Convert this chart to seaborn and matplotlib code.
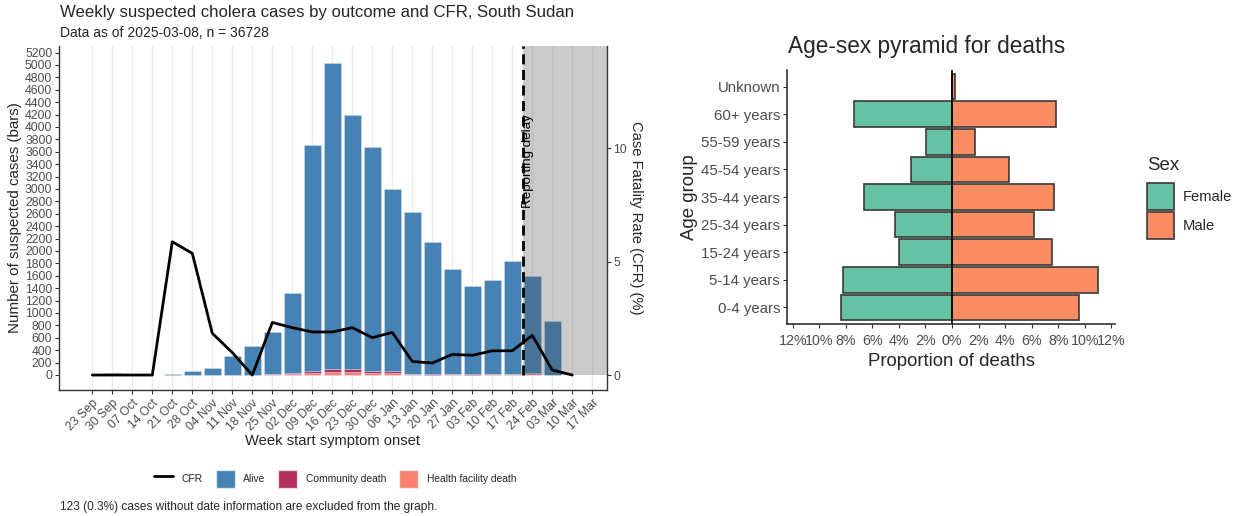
import numpy as np
import pandas as pd
import matplotlib.pyplot as plt
import seaborn as sns
from matplotlib.lines import Line2D
from matplotlib.patches import Patch, Rectangle

# Weekly data (left panel)
WEEKS = ["23 Sep", "30 Sep", "07 Oct", "14 Oct", "21 Oct", "28 Oct", "04 Nov", "11 Nov",
         "18 Nov", "25 Nov", "02 Dec", "09 Dec", "16 Dec", "23 Dec", "30 Dec", "06 Jan",
         "13 Jan", "20 Jan", "27 Jan", "03 Feb", "10 Feb", "17 Feb", "24 Feb", "03 Mar",
         "10 Mar", "17 Mar"]
ALIVE = [3, 27, 0, 0, 14, 62, 105, 303, 473, 672, 1300, 3635, 4941, 4108, 3621, 2943,
         2618, 2138, 1687, 1428, 1515, 1819, 1563, 864, 0, 0]
COMMUNITY_DEATH = [0, 0, 0, 0, 1, 2, 1, 2, 0, 8, 14, 35, 48, 42, 30, 28,
                   8, 6, 8, 6, 8, 10, 14, 1, 0, 0]
HF_DEATH = [0, 0, 0, 0, 0, 1, 1, 1, 0, 8, 14, 35, 48, 48, 31, 29,
            8, 6, 9, 7, 9, 10, 15, 1, 0, 0]
CFR_WEEKS = WEEKS[:25]
CFR = [0, 0, 0, 0, 5.88, 5.37, 1.84, 0.99, 0, 2.32, 2.09, 1.90, 1.90, 2.09, 1.65, 1.88,
       0.60, 0.53, 0.91, 0.87, 1.07, 1.07, 1.75, 0.22, 0]
DELAY_START = 21.55

# Age-sex pyramid (right panel), % of deaths
AGE_GROUPS = ["Unknown", "60+ years", "55-59 years", "45-54 years", "35-44 years",
              "25-34 years", "15-24 years", "5-14 years", "0-4 years"]
FEMALE_PCT = [0, 7.4, 1.95, 3.1, 6.6, 4.3, 4.0, 8.2, 8.33]
MALE_PCT = [0.2, 7.8, 1.7, 4.3, 7.7, 6.2, 7.5, 11.0, 9.6]

OUTCOME_COLORS = {"Alive": "#4682B4", "Community death": "#B03060",
                  "Health facility death": "#FA8072"}
SEX_COLORS = {"Female": "#66C2A5", "Male": "#FC8D62"}

sns.set_style("white")
plt.rcParams["font.family"] = ["Liberation Sans", "DejaVu Sans"]
TICK_COL = "#4D4D4D"

fig = plt.figure(figsize=(12.46, 5.16), dpi=100)

# ---------------- left panel ----------------
ax = fig.add_axes([0.0476, 0.2442, 0.4393, 0.6667])
idx = np.arange(len(WEEKS))
df = pd.DataFrame({
    "week": np.tile(idx, 3),
    "n": ALIVE + COMMUNITY_DEATH + HF_DEATH,
    "outcome": ["Alive"] * len(WEEKS) + ["Community death"] * len(WEEKS)
               + ["Health facility death"] * len(WEEKS),
})
sns.histplot(data=df, x="week", weights="n", hue="outcome",
             hue_order=["Alive", "Community death", "Health facility death"],
             palette=OUTCOME_COLORS, multiple="stack", discrete=True, shrink=0.87,
             alpha=1, edgecolor=(1, 1, 1, 0.35), linewidth=0.5, legend=False, ax=ax)

ymin, ymax = -242, 5306
ax.set_xlim(-1.65, 25.72)
ax.set_ylim(ymin, ymax)
ax.set_yticks(np.arange(0, 5201, 200))
ax.set_xticks(idx)
ax.set_xticklabels(WEEKS, rotation=45, ha="right", rotation_mode="anchor")
ax.tick_params(axis="both", labelsize=8.8, labelcolor=TICK_COL, length=3, width=0.8,
               color="#333333", direction="out", left=True, bottom=True, pad=2)
ax.grid(axis="x", color="#EBEBEB", lw=1)
ax.set_axisbelow(True)
for s in ["top", "right"]:
    ax.spines[s].set_visible(False)
for s in ["left", "bottom"]:
    ax.spines[s].set_color("#333333")
    ax.spines[s].set_linewidth(1)
ax.set_xlabel("Week start symptom onset", fontsize=10.6, labelpad=1)
ax.set_ylabel("Number of suspected cases (bars)", fontsize=10.9, labelpad=2)

# reporting delay shading + line
ax.add_patch(Rectangle((DELAY_START, 0), 25.72 - DELAY_START, ymax, facecolor="#555555",
                       alpha=0.3, edgecolor="none", zorder=5))
ax.vlines(DELAY_START, 0, ymax, colors="black", linestyles=(0, (3.6, 2.0)), lw=2, zorder=6)
ax.text(DELAY_START + 0.24, 3443, "Reporting delay", rotation=90, ha="center", va="center",
        fontsize=9.6, color="black", zorder=5)

ax2 = ax.twinx()
sns.lineplot(x=np.arange(len(CFR_WEEKS)), y=CFR, color="black", lw=2, ax=ax2)
ax2.set_ylim(-0.66, 14.52)
ax2.set_yticks([0, 5, 10])
ax2.tick_params(axis="y", labelsize=8.8, labelcolor=TICK_COL, length=3, width=0.8,
                color="#333333", right=True, pad=2)
for s in ["top", "left", "bottom"]:
    ax2.spines[s].set_visible(False)
ax2.spines["right"].set_color("#333333")
ax2.spines["right"].set_linewidth(1)
ax2.set_ylabel("Case Fatality Rate (CFR) (%)", fontsize=10.6, rotation=270, labelpad=11)

fig.text(60 / 1246, 1 - 12 / 516, "Weekly suspected cholera cases by outcome and CFR, South Sudan",
         fontsize=12.05, va="center", ha="left")
fig.text(60 / 1246, 1 - 33 / 516, "Data as of 2025-03-08, n = 36728",
         fontsize=10, va="center", ha="left")
fig.text(60 / 1246, 1 - 507 / 516,
         "123 (0.3%) cases without date information are excluded from the graph.",
         fontsize=8.6, va="center", ha="left")

handles = [Line2D([0], [0], color="black", lw=2)] + \
          [Patch(facecolor=c, edgecolor=(1, 1, 1, 0.6)) for c in OUTCOME_COLORS.values()]
labels = ["CFR"] + list(OUTCOME_COLORS.keys())
fig.legend(handles, labels, loc="center", bbox_to_anchor=(335 / 1246, 1 - 479 / 516),
           ncol=4, frameon=False, fontsize=7.4, handlelength=1.85, handleheight=2.45,
           handletextpad=0.8, columnspacing=1.3, borderpad=0)

# ---------------- right panel ----------------
ax3 = fig.add_axes([787 / 1246, 1 - 324 / 516, (1115 - 787) / 1246, (324 - 70) / 516])
pyr = pd.DataFrame({
    "age": AGE_GROUPS * 2,
    "prop": [-v for v in FEMALE_PCT] + MALE_PCT,
    "sex": ["Female"] * len(AGE_GROUPS) + ["Male"] * len(AGE_GROUPS),
})
sns.barplot(data=pyr, x="prop", y="age", hue="sex", order=AGE_GROUPS,
            hue_order=["Female", "Male"], palette=SEX_COLORS, dodge=False, orient="h",
            width=0.93, saturation=1, edgecolor="#3a3a3a", linewidth=1.2, legend=False,
            ax=ax3)
ax3.axvline(0, color="black", lw=1.2)
ax3.set_xlim(-12.43, 12.28)
ax3.set_ylim(8.6, -0.6)
xt = np.arange(-12, 13, 2)
ax3.set_xticks(xt)
ax3.set_xticklabels([f"{abs(v)}%" for v in xt])
ax3.tick_params(axis="both", labelsize=10.8, labelcolor=TICK_COL, length=3, width=0.8,
                color="#333333", direction="out", left=True, bottom=True, pad=2)
ax3.tick_params(axis="x", labelsize=10.3, pad=4)
for s in ["top", "right"]:
    ax3.spines[s].set_visible(False)
for s in ["left", "bottom"]:
    ax3.spines[s].set_color("#222222")
    ax3.spines[s].set_linewidth(1.1)
ax3.set_xlabel("Proportion of deaths", fontsize=13.4, labelpad=4)
ax3.set_ylabel("Age group", fontsize=13.4, labelpad=2)
fig.text(927 / 1246, 1 - 47 / 516, "Age-sex pyramid for deaths", fontsize=16.3,
         ha="center", va="center")

sex_handles = [Patch(facecolor=c, edgecolor="#3a3a3a", linewidth=1.2) for c in SEX_COLORS.values()]
leg = fig.legend(sex_handles, list(SEX_COLORS.keys()), title="Sex", loc="upper left",
                 bbox_to_anchor=(1140 / 1246, 1 - 150 / 516), frameon=False, fontsize=10.6,
                 title_fontsize=13.4, handlelength=1.84, handleheight=2.45,
                 handletextpad=0.55, labelspacing=0.14, borderpad=0)
leg._legend_box.align = "left"
leg._legend_box.sep = 6

fig.savefig("out.png", dpi=100)
